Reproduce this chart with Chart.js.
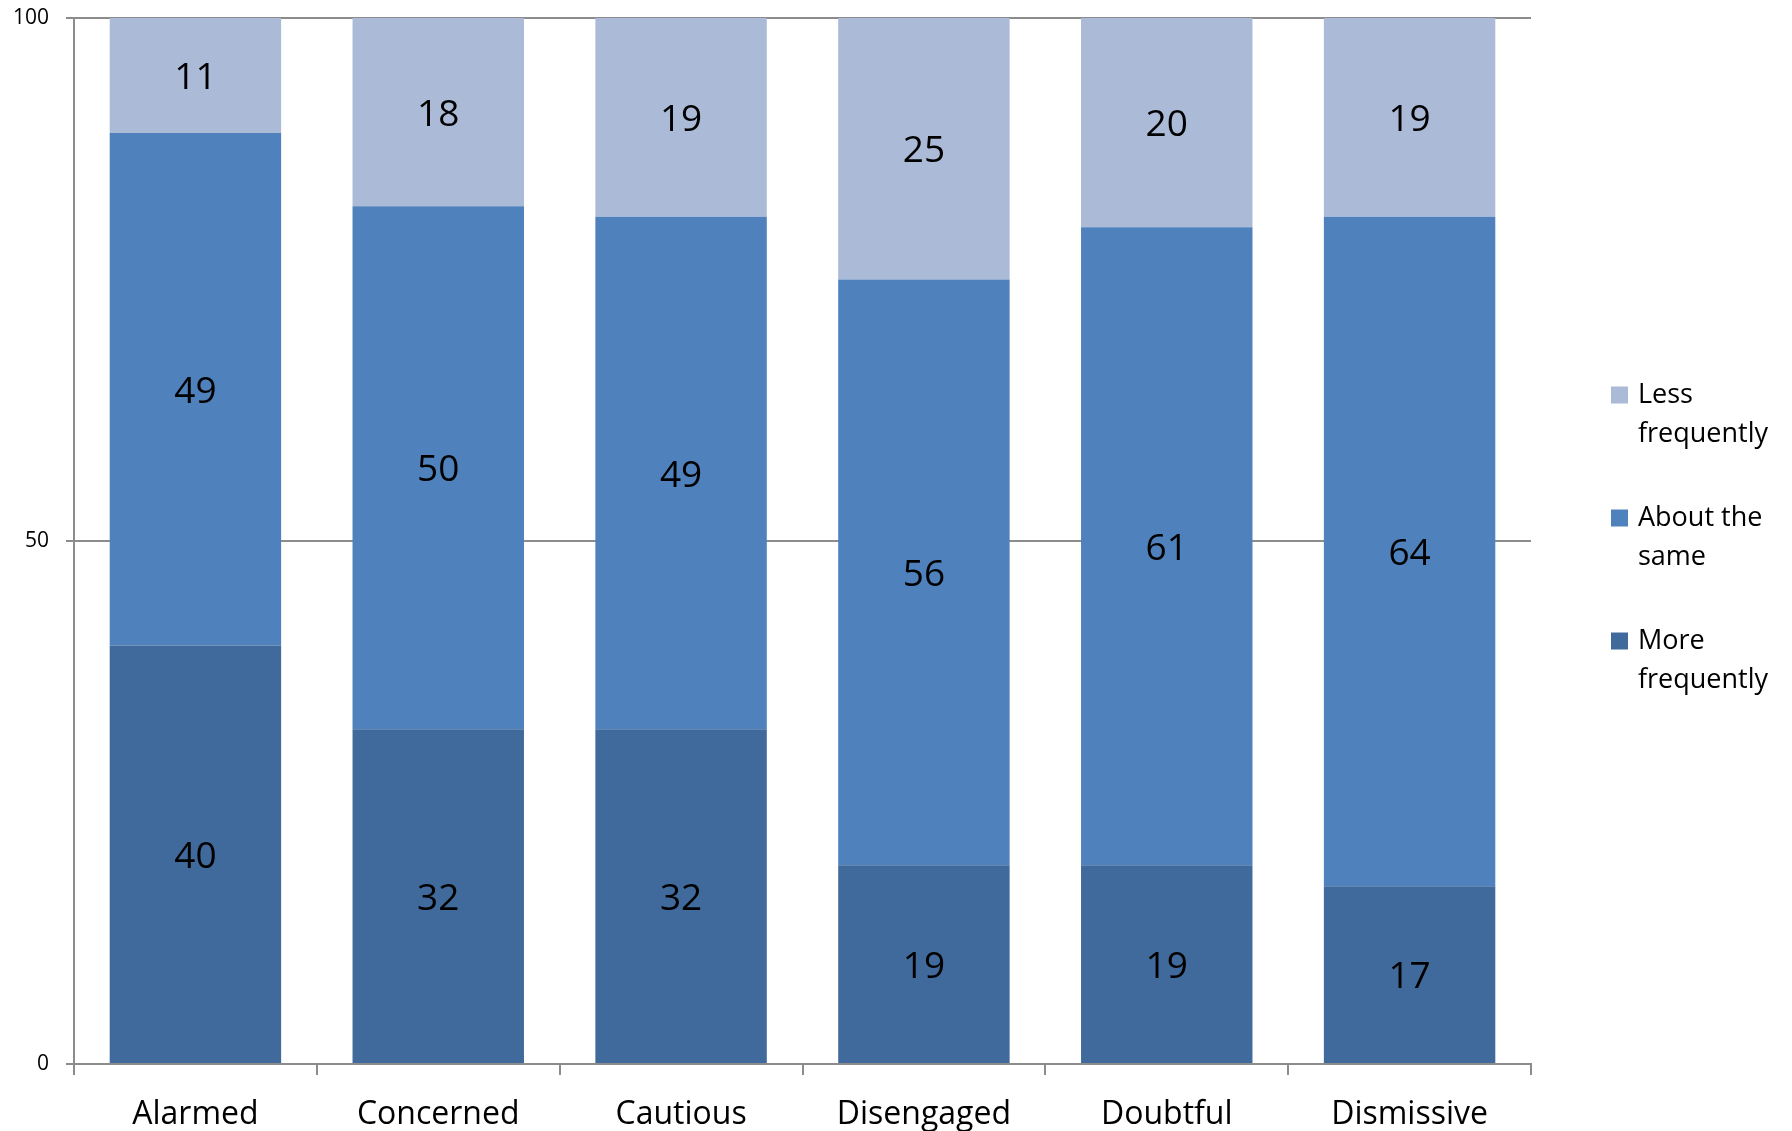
<!DOCTYPE html>
<html>
<head>
<meta charset="utf-8">
<script src="https://cdn.jsdelivr.net/npm/chart.js@4/dist/chart.umd.min.js"></script>
<style>
  html, body { margin: 0; padding: 0; background: #fff; }
  #wrap { width: 1792px; height: 1131px; }
</style>
</head>
<body>
<div id="wrap"><canvas id="chart" width="1792" height="1131"></canvas></div>
<script>
// Segments
const segments = ['Alarmed', 'Concerned', 'Cautious', 'Disengaged', 'Doubtful', 'Dismissive'];

// Series values (percent), bottom to top of each stack
const moreFrequently = [40, 32, 32, 19, 19, 17];
const aboutTheSame = [49, 50, 49, 56, 61, 64];
const lessFrequently = [11, 18, 19, 25, 20, 19];

const seriesNames = ['More frequently', 'About the same', 'Less frequently'];
const seriesColors = ['#416a9c', '#4f81bd', '#aabad7'];

// Y axis ticks
const yTicks = [0, 50, 100];

const FONT = "'Open Sans', 'DejaVu Sans', sans-serif";
const GRID = '#8c8c8c';

// Numbers in the middle of each segment
const segmentLabels = {
    id: 'segmentLabels',
    afterDatasetsDraw(chart) {
        const ctx = chart.ctx;
        ctx.save();
        ctx.font = '37px ' + FONT;
        ctx.fillStyle = '#000';
        ctx.textAlign = 'center';
        ctx.textBaseline = 'middle';
        chart.data.datasets.forEach((ds, i) => {
            chart.getDatasetMeta(i).data.forEach((bar, j) => {
                const mid = (bar.y + bar.base) / 2 + 3;
                ctx.fillText(String(ds.data[j]), bar.x, mid);
            });
        });
        ctx.restore();
    }
};

// Legend on the right, top entry = top of the stack, wrapped text
const sideLegend = {
    id: 'sideLegend',
    afterDraw(chart) {
        const ctx = chart.ctx;
        const x0 = 1611, textX = 1638, firstY = 395, itemGap = 123, lineH = 39, box = 17;
        ctx.save();
        ctx.font = '27px ' + FONT;
        ctx.textBaseline = 'middle';
        ctx.textAlign = 'left';
        const order = chart.data.datasets.map((d, i) => i).reverse();
        order.forEach((di, k) => {
            const ds = chart.data.datasets[di];
            const y = firstY + k * itemGap;
            ctx.fillStyle = ds.backgroundColor;
            ctx.fillRect(x0, y - box / 2, box, box);
            // greedy wrap
            const words = ds.label.split(' ');
            const lines = [];
            let cur = '';
            words.forEach(w => {
                const test = cur ? cur + ' ' + w : w;
                if (cur && ctx.measureText(test).width > 145) {
                    lines.push(cur);
                    cur = w;
                } else {
                    cur = test;
                }
            });
            if (cur) lines.push(cur);
            ctx.fillStyle = '#000';
            lines.forEach((ln, li) => ctx.fillText(ln, textX, y + li * lineH));
        });
        ctx.restore();
    }
};

const seriesData = [moreFrequently, aboutTheSame, lessFrequently];

new Chart(document.getElementById('chart'), {
    type: 'bar',
    data: {
        labels: segments,
        datasets: seriesData.map((vals, i) => ({
            label: seriesNames[i],
            data: vals,
            backgroundColor: seriesColors[i],
            borderWidth: 0,
            categoryPercentage: 1,
            barPercentage: 0.706
        }))
    },
    options: {
        responsive: false,
        animation: false,
        layout: { padding: { top: 18, right: 261, bottom: 0, left: 0 } },
        plugins: {
            legend: { display: false },
            tooltip: { enabled: false },
            title: { display: false }
        },
        scales: {
            x: {
                stacked: true,
                afterFit(scale) {
                    scale.height = 67;
                    scale.paddingLeft = 0;
                    scale.paddingRight = 0;
                },
                grid: {
                    display: true,
                    offset: true,
                    drawOnChartArea: false,
                    drawTicks: true,
                    tickLength: 11,
                    color: GRID,
                    lineWidth: 2
                },
                border: { display: true, color: GRID, width: 2 },
                ticks: {
                    color: '#000',
                    font: { family: FONT, size: 32 },
                    padding: 21,
                    maxRotation: 0,
                    autoSkip: false
                }
            },
            y: {
                stacked: true,
                min: 0,
                max: 100,
                afterFit(scale) {
                    scale.width = 74;
                    scale.paddingTop = 0;
                    scale.paddingBottom = 0;
                },
                afterBuildTicks(scale) {
                    scale.ticks = yTicks.map(v => ({ value: v }));
                },
                grid: {
                    color: GRID,
                    lineWidth: 2,
                    tickLength: 8
                },
                border: { display: true, color: GRID, width: 2 },
                ticks: {
                    color: '#000',
                    font: { family: FONT, size: 21 },
                    padding: 17
                }
            }
        }
    },
    plugins: [segmentLabels, sideLegend]
});
</script>
</body>
</html>
